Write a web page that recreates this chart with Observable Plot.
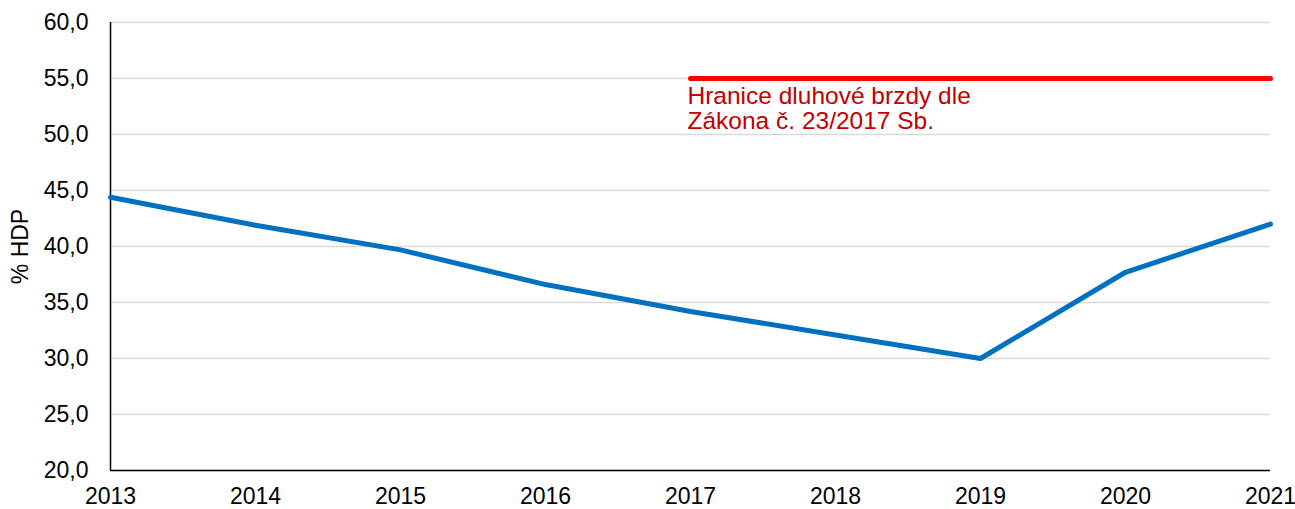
<!DOCTYPE html>
<html>
<head>
<meta charset="utf-8">
<script src="https://cdn.jsdelivr.net/npm/d3@7"></script>
<script src="https://cdn.jsdelivr.net/npm/@observablehq/plot@0.6"></script>
<style>
  html, body { margin: 0; padding: 0; background: #fff; }
  #chart svg { display: block; }
</style>
</head>
<body>
<div id="chart"></div>
<script>
const years = [2013, 2014, 2015, 2016, 2017, 2018, 2019, 2020, 2021];
const debt = [44.4, 41.9, 39.7, 36.6, 34.2, 32.1, 30.0, 37.7, 42.0];
const brakeYears = [2017, 2021];
const brakeLimit = 55;
const brakeLabel = "Hranice dluhové brzdy dle\nZákona č. 23/2017 Sb.";
const yTicks = [20, 25, 30, 35, 40, 45, 50, 55, 60];
const yLabel = "% HDP";

const debtData = years.map((y, i) => ({year: y, value: debt[i]}));
const brakeData = brakeYears.map(y => ({year: y, value: brakeLimit}));

const fmt = d => d.toFixed(1).replace(".", ",");

const chart = Plot.plot({
  width: 1295,
  height: 509,
  marginLeft: 110,
  marginRight: 25,
  marginTop: 22,
  marginBottom: 39,
  style: {fontFamily: "'Liberation Sans', Arial, sans-serif", fontSize: "23px", color: "#000", background: "#fff"},
  x: {domain: [2013, 2021], label: null},
  y: {domain: [20, 60], label: null},
  marks: [
    Plot.gridY(yTicks, {stroke: "#d9d9d9", strokeOpacity: 1, strokeWidth: 1.5}),
    Plot.axisX({ticks: years, tickFormat: d => String(d), tickSize: 0, tickPadding: 17, fontSize: 23, label: null}),
    Plot.axisY({ticks: yTicks, tickFormat: fmt, tickSize: 0, tickPadding: 22, fontSize: 23, label: yLabel, labelAnchor: "center", labelArrow: "none", labelOffset: 99}),
    Plot.ruleY([20], {stroke: "#000", strokeWidth: 1.5}),
    Plot.ruleX([2013], {stroke: "#000", strokeWidth: 1.5}),
    Plot.line(debtData, {x: "year", y: "value", stroke: "#0070C0", strokeWidth: 5, strokeLinejoin: "round"}),
    Plot.line(brakeData, {x: "year", y: "value", stroke: "#FF0000", strokeWidth: 5, strokeLinecap: "round"}),
    Plot.text([brakeData[0]], {x: "year", y: "value", text: () => brakeLabel, textAnchor: "start", lineAnchor: "top", dx: -3, dy: 8, lineHeight: 1.02, fontSize: 24.5, fill: "#C00000"})
  ]
});
document.getElementById("chart").appendChild(chart);
</script>
</body>
</html>
